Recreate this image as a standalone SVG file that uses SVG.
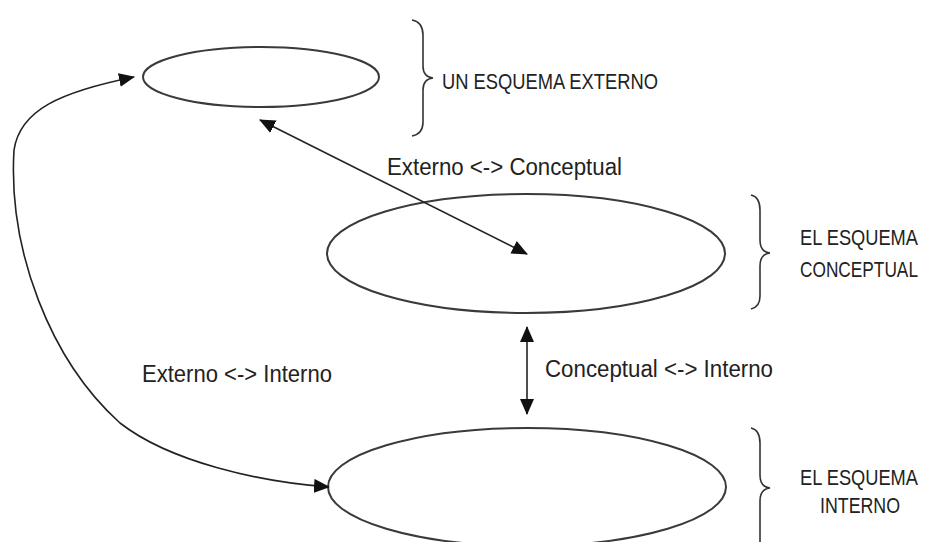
<svg xmlns="http://www.w3.org/2000/svg" width="927" height="542" viewBox="0 0 927 542">
<style>
.node{fill:none;stroke:#3a3a3a;stroke-width:2}
.brace{fill:none;stroke:#333;stroke-width:1.6}
.conn{fill:none;stroke:#222;stroke-width:1.6}
.lbl{font-family:"Liberation Sans",Arial,sans-serif;font-size:23px;fill:#222}
.cap{font-size:22px}
</style>
<defs>
<marker id="ah" viewBox="0 0 16 14" refX="15" refY="7" markerWidth="16" markerHeight="14" markerUnits="userSpaceOnUse" orient="auto-start-reverse">
<path d="M0,0 L16,7 L0,14 z" fill="#111"/>
</marker>
</defs>
<rect width="927" height="542" fill="#fff"/>
<g id="externo">
<ellipse class="node" cx="261" cy="77" rx="118" ry="30"/>
<path class="brace" d="M412,20 Q423,22 423,35 L423,66 Q423,77 433,78 Q423,79 423,90 L423,122 Q423,134 412,136"/>
<text class="lbl cap" transform="translate(442,89) scale(0.8,1)" textLength="270" lengthAdjust="spacingAndGlyphs">UN ESQUEMA EXTERNO</text>
</g>
<g id="conceptual">
<ellipse class="node" cx="526" cy="253.5" rx="199" ry="59.5"/>
<path class="brace" d="M751,195 Q760,197 760,210 L760,240 Q760,252 770,253 Q760,254 760,266 L760,296 Q760,307 751,309"/>
<text class="lbl cap" transform="translate(800,245) scale(0.8,1)" textLength="147.5" lengthAdjust="spacingAndGlyphs">EL ESQUEMA</text>
<text class="lbl cap" transform="translate(800,277) scale(0.8,1)" textLength="147.5" lengthAdjust="spacingAndGlyphs">CONCEPTUAL</text>
</g>
<g id="interno">
<ellipse class="node" cx="527" cy="487" rx="199" ry="59"/>
<path class="brace" d="M751,428 Q760,430 760,443 L760,475 Q760,487 770,488 Q760,489 760,501 L760,545"/>
<text class="lbl cap" transform="translate(800,485) scale(0.8,1)" textLength="147.5" lengthAdjust="spacingAndGlyphs">EL ESQUEMA</text>
<text class="lbl cap" transform="translate(820,513) scale(0.8,1)" textLength="100" lengthAdjust="spacingAndGlyphs">INTERNO</text>
</g>
<g id="connectors">
<line class="conn" x1="260" y1="120" x2="527" y2="254" marker-start="url(#ah)" marker-end="url(#ah)"/>
<line class="conn" x1="527" y1="327" x2="527" y2="414" marker-start="url(#ah)" marker-end="url(#ah)"/>
<path class="conn" d="M134,77 C60,92 20,110 14,150 C8,250 50,360 120,423 C170,462 260,482 329,487" marker-start="url(#ah)" marker-end="url(#ah)"/>
<text class="lbl" x="387" y="175" textLength="235" lengthAdjust="spacingAndGlyphs">Externo &lt;-&gt; Conceptual</text>
<text class="lbl" x="545" y="377" textLength="228" lengthAdjust="spacingAndGlyphs">Conceptual &lt;-&gt; Interno</text>
<text class="lbl" x="142" y="382" textLength="190" lengthAdjust="spacingAndGlyphs">Externo &lt;-&gt; Interno</text>
</g>
</svg>
